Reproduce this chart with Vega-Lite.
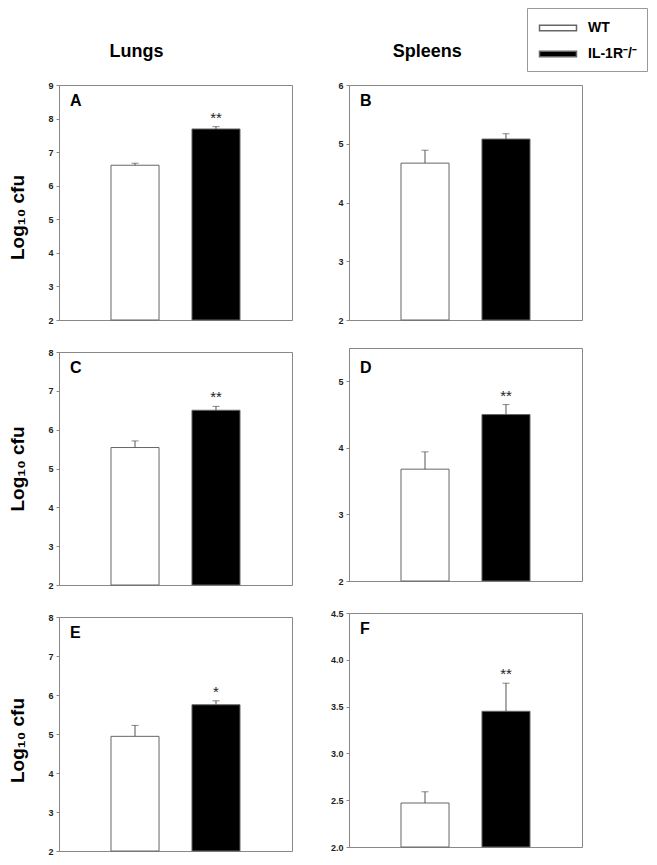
{
  "$schema": "https://vega.github.io/schema/vega-lite/v6.json",
  "padding": {"left": 8, "top": 7, "right": 5, "bottom": 5},
  "background": "white",
  "config": {
    "font": "Liberation Sans",
    "view": {"stroke": "#888", "strokeWidth": 1},
    "axis": {"labelOverlap": false},
    "axisQuantitative": {"labelOverlap": false},
    "axisY": {"domainColor": "#888", "tickColor": "#888", "tickSize": 3, "labelFontSize": 9, "labelFontWeight": "bold", "labelColor": "#222", "labelPadding": 3, "labelOverlap": false, "grid": false, "titleFontSize": 19, "titleFontWeight": "bold", "titleColor": "black", "titlePadding": 20},
    "legend": {"orient": "none", "legendX": 468, "legendY": -77, "title": null, "symbolType": "M-2,-0.3H2V0.3H-2Z", "symbolSize": 342, "symbolOffset": 11, "labelFontSize": 14, "labelFontWeight": "bold", "labelColor": "black", "strokeColor": "#999", "padding": 10, "rowPadding": 9, "labelOffset": 20}
  },
  "datasets": {
    "cfu": [
      {"panel": "A", "group": "WT", "mean": 6.61, "upper": 6.67, "star": ""},
      {"panel": "A", "group": "IL-1R⁻/⁻", "mean": 7.69, "upper": 7.76, "star": "**"},
      {"panel": "B", "group": "WT", "mean": 4.67, "upper": 4.89, "star": ""},
      {"panel": "B", "group": "IL-1R⁻/⁻", "mean": 5.08, "upper": 5.17, "star": ""},
      {"panel": "C", "group": "WT", "mean": 5.54, "upper": 5.71, "star": ""},
      {"panel": "C", "group": "IL-1R⁻/⁻", "mean": 6.5, "upper": 6.6, "star": "**"},
      {"panel": "D", "group": "WT", "mean": 3.68, "upper": 3.94, "star": ""},
      {"panel": "D", "group": "IL-1R⁻/⁻", "mean": 4.5, "upper": 4.65, "star": "**"},
      {"panel": "E", "group": "WT", "mean": 4.94, "upper": 5.22, "star": ""},
      {"panel": "E", "group": "IL-1R⁻/⁻", "mean": 5.75, "upper": 5.85, "star": "*"},
      {"panel": "F", "group": "WT", "mean": 2.47, "upper": 2.59, "star": ""},
      {"panel": "F", "group": "IL-1R⁻/⁻", "mean": 3.45, "upper": 3.75, "star": "**"}
    ]
  },
  "data": {"name": "cfu"},
  "spacing": 36,
  "resolve": {"scale": {"y": "independent"}, "axis": {"y": "independent"}},
  "hconcat": [
    {
      "title": {"text": "Lungs", "fontSize": 18, "fontWeight": "bold", "anchor": "middle", "offset": 20, "dx": -14},
      "spacing": 21,
      "resolve": {"scale": {"y": "independent"}, "axis": {"y": "independent"}},
      "vconcat": [
        {
          "width": 233, "height": 235,
          "title": {"text": "A", "anchor": "start", "frame": "group", "offset": -41, "dx": 11, "fontSize": 16, "fontWeight": "bold", "baseline": "alphabetic"},
          "transform": [{"filter": "datum.panel === 'A'"}],
          "encoding": {"x": {"field": "group", "type": "nominal", "sort": null, "scale": {"domain": ["WT", "IL-1R⁻/⁻"], "paddingInner": 0.407, "paddingOuter": 0.642, "align": 0.5}, "axis": null}},
          "layer": [
            {"mark": {"type": "bar", "stroke": "#666", "strokeWidth": 1}, "encoding": {"y": {"field": "mean", "type": "quantitative", "scale": {"domain": [2, 9], "nice": false, "zero": false}, "axis": {"values": [2, 3, 4, 5, 6, 7, 8, 9], "format": "d", "labelOverlap": false, "labelBound": false, "title": "Log₁₀ cfu", "titleY": 132}}, "y2": {"datum": 2}, "fill": {"field": "group", "type": "nominal", "scale": {"domain": ["WT", "IL-1R⁻/⁻"], "range": ["white", "black"]}}}},
            {"mark": {"type": "rule", "color": "#555"}, "encoding": {"y": {"field": "mean", "type": "quantitative", "axis": {"values": [2, 3, 4, 5, 6, 7, 8, 9], "format": "d", "labelOverlap": false, "labelBound": false, "title": "Log₁₀ cfu", "titleY": 132}}, "y2": {"field": "upper"}}},
            {"mark": {"type": "tick", "color": "#555", "size": 7, "thickness": 1}, "encoding": {"y": {"field": "upper", "type": "quantitative", "axis": {"values": [2, 3, 4, 5, 6, 7, 8, 9], "format": "d", "labelOverlap": false, "labelBound": false, "title": "Log₁₀ cfu", "titleY": 132}}}},
            {"mark": {"type": "text", "baseline": "alphabetic", "dy": -4, "fontSize": 15, "color": "#222"}, "encoding": {"y": {"field": "upper", "type": "quantitative", "axis": {"values": [2, 3, 4, 5, 6, 7, 8, 9], "format": "d", "labelOverlap": false, "labelBound": false, "title": "Log₁₀ cfu", "titleY": 132}}, "text": {"field": "star"}}}
          ]
        },
        {
          "width": 233, "height": 233,
          "title": {"text": "C", "anchor": "start", "frame": "group", "offset": -41, "dx": 11, "fontSize": 16, "fontWeight": "bold", "baseline": "alphabetic"},
          "transform": [{"filter": "datum.panel === 'C'"}],
          "encoding": {"x": {"field": "group", "type": "nominal", "sort": null, "scale": {"domain": ["WT", "IL-1R⁻/⁻"], "paddingInner": 0.407, "paddingOuter": 0.642, "align": 0.5}, "axis": null}},
          "layer": [
            {"mark": {"type": "bar", "stroke": "#666", "strokeWidth": 1}, "encoding": {"y": {"field": "mean", "type": "quantitative", "scale": {"domain": [2, 8], "nice": false, "zero": false}, "axis": {"values": [2, 3, 4, 5, 6, 7, 8], "format": "d", "labelOverlap": false, "labelBound": false, "title": "Log₁₀ cfu"}}, "y2": {"datum": 2}, "fill": {"field": "group", "type": "nominal", "scale": {"domain": ["WT", "IL-1R⁻/⁻"], "range": ["white", "black"]}}}},
            {"mark": {"type": "rule", "color": "#555"}, "encoding": {"y": {"field": "mean", "type": "quantitative", "axis": {"values": [2, 3, 4, 5, 6, 7, 8], "format": "d", "labelOverlap": false, "labelBound": false, "title": "Log₁₀ cfu"}}, "y2": {"field": "upper"}}},
            {"mark": {"type": "tick", "color": "#555", "size": 7, "thickness": 1}, "encoding": {"y": {"field": "upper", "type": "quantitative", "axis": {"values": [2, 3, 4, 5, 6, 7, 8], "format": "d", "labelOverlap": false, "labelBound": false, "title": "Log₁₀ cfu"}}}},
            {"mark": {"type": "text", "baseline": "alphabetic", "dy": -4, "fontSize": 15, "color": "#222"}, "encoding": {"y": {"field": "upper", "type": "quantitative", "axis": {"values": [2, 3, 4, 5, 6, 7, 8], "format": "d", "labelOverlap": false, "labelBound": false, "title": "Log₁₀ cfu"}}, "text": {"field": "star"}}}
          ]
        },
        {
          "width": 233, "height": 234,
          "title": {"text": "E", "anchor": "start", "frame": "group", "offset": -41, "dx": 11, "fontSize": 16, "fontWeight": "bold", "baseline": "alphabetic"},
          "transform": [{"filter": "datum.panel === 'E'"}],
          "encoding": {"x": {"field": "group", "type": "nominal", "sort": null, "scale": {"domain": ["WT", "IL-1R⁻/⁻"], "paddingInner": 0.407, "paddingOuter": 0.642, "align": 0.5}, "axis": null}},
          "layer": [
            {"mark": {"type": "bar", "stroke": "#666", "strokeWidth": 1}, "encoding": {"y": {"field": "mean", "type": "quantitative", "scale": {"domain": [2, 8], "nice": false, "zero": false}, "axis": {"values": [2, 3, 4, 5, 6, 7, 8], "format": "d", "labelOverlap": false, "labelBound": false, "title": "Log₁₀ cfu", "titleY": 123}}, "y2": {"datum": 2}, "fill": {"field": "group", "type": "nominal", "scale": {"domain": ["WT", "IL-1R⁻/⁻"], "range": ["white", "black"]}}}},
            {"mark": {"type": "rule", "color": "#555"}, "encoding": {"y": {"field": "mean", "type": "quantitative", "axis": {"values": [2, 3, 4, 5, 6, 7, 8], "format": "d", "labelOverlap": false, "labelBound": false, "title": "Log₁₀ cfu", "titleY": 123}}, "y2": {"field": "upper"}}},
            {"mark": {"type": "tick", "color": "#555", "size": 7, "thickness": 1}, "encoding": {"y": {"field": "upper", "type": "quantitative", "axis": {"values": [2, 3, 4, 5, 6, 7, 8], "format": "d", "labelOverlap": false, "labelBound": false, "title": "Log₁₀ cfu", "titleY": 123}}}},
            {"mark": {"type": "text", "baseline": "alphabetic", "dy": -4, "fontSize": 15, "color": "#222"}, "encoding": {"y": {"field": "upper", "type": "quantitative", "axis": {"values": [2, 3, 4, 5, 6, 7, 8], "format": "d", "labelOverlap": false, "labelBound": false, "title": "Log₁₀ cfu", "titleY": 123}}, "text": {"field": "star"}}}
          ]
        }
      ]
    },
    {
      "title": {"text": "Spleens", "fontSize": 18, "fontWeight": "bold", "anchor": "middle", "offset": 20, "dx": -29},
      "spacing": 21,
      "resolve": {"scale": {"y": "independent"}, "axis": {"y": "independent"}},
      "vconcat": [
        {
          "width": 233, "height": 235,
          "title": {"text": "B", "anchor": "start", "frame": "group", "offset": -41, "dx": 11, "fontSize": 16, "fontWeight": "bold", "baseline": "alphabetic"},
          "transform": [{"filter": "datum.panel === 'B'"}],
          "encoding": {"x": {"field": "group", "type": "nominal", "sort": null, "scale": {"domain": ["WT", "IL-1R⁻/⁻"], "paddingInner": 0.407, "paddingOuter": 0.642, "align": 0.5}, "axis": null}},
          "layer": [
            {"mark": {"type": "bar", "stroke": "#666", "strokeWidth": 1}, "encoding": {"y": {"field": "mean", "type": "quantitative", "scale": {"domain": [2, 6], "nice": false, "zero": false}, "axis": {"values": [2, 3, 4, 5, 6], "format": "d", "labelOverlap": false, "labelBound": false, "title": null}}, "y2": {"datum": 2}, "fill": {"field": "group", "type": "nominal", "scale": {"domain": ["WT", "IL-1R⁻/⁻"], "range": ["white", "black"]}}}},
            {"mark": {"type": "rule", "color": "#555"}, "encoding": {"y": {"field": "mean", "type": "quantitative", "axis": {"values": [2, 3, 4, 5, 6], "format": "d", "labelOverlap": false, "labelBound": false, "title": null}}, "y2": {"field": "upper"}}},
            {"mark": {"type": "tick", "color": "#555", "size": 7, "thickness": 1}, "encoding": {"y": {"field": "upper", "type": "quantitative", "axis": {"values": [2, 3, 4, 5, 6], "format": "d", "labelOverlap": false, "labelBound": false, "title": null}}}},
            {"mark": {"type": "text", "baseline": "alphabetic", "dy": -4, "fontSize": 15, "color": "#222"}, "encoding": {"y": {"field": "upper", "type": "quantitative", "axis": {"values": [2, 3, 4, 5, 6], "format": "d", "labelOverlap": false, "labelBound": false, "title": null}}, "text": {"field": "star"}}}
          ]
        },
        {
          "width": 233, "height": 233,
          "title": {"text": "D", "anchor": "start", "frame": "group", "offset": -41, "dx": 11, "fontSize": 16, "fontWeight": "bold", "baseline": "alphabetic"},
          "transform": [{"filter": "datum.panel === 'D'"}],
          "encoding": {"x": {"field": "group", "type": "nominal", "sort": null, "scale": {"domain": ["WT", "IL-1R⁻/⁻"], "paddingInner": 0.407, "paddingOuter": 0.642, "align": 0.5}, "axis": null}},
          "layer": [
            {"mark": {"type": "bar", "stroke": "#666", "strokeWidth": 1}, "encoding": {"y": {"field": "mean", "type": "quantitative", "scale": {"domain": [2, 5.5], "nice": false, "zero": false}, "axis": {"values": [2, 3, 4, 5], "format": "d", "labelOverlap": false, "labelBound": false, "title": null}}, "y2": {"datum": 2}, "fill": {"field": "group", "type": "nominal", "scale": {"domain": ["WT", "IL-1R⁻/⁻"], "range": ["white", "black"]}}}},
            {"mark": {"type": "rule", "color": "#555"}, "encoding": {"y": {"field": "mean", "type": "quantitative", "axis": {"values": [2, 3, 4, 5], "format": "d", "labelOverlap": false, "labelBound": false, "title": null}}, "y2": {"field": "upper"}}},
            {"mark": {"type": "tick", "color": "#555", "size": 7, "thickness": 1}, "encoding": {"y": {"field": "upper", "type": "quantitative", "axis": {"values": [2, 3, 4, 5], "format": "d", "labelOverlap": false, "labelBound": false, "title": null}}}},
            {"mark": {"type": "text", "baseline": "alphabetic", "dy": -4, "fontSize": 15, "color": "#222"}, "encoding": {"y": {"field": "upper", "type": "quantitative", "axis": {"values": [2, 3, 4, 5], "format": "d", "labelOverlap": false, "labelBound": false, "title": null}}, "text": {"field": "star"}}}
          ]
        },
        {
          "width": 233, "height": 234,
          "title": {"text": "F", "anchor": "start", "frame": "group", "offset": -41, "dx": 11, "fontSize": 16, "fontWeight": "bold", "baseline": "alphabetic"},
          "transform": [{"filter": "datum.panel === 'F'"}],
          "encoding": {"x": {"field": "group", "type": "nominal", "sort": null, "scale": {"domain": ["WT", "IL-1R⁻/⁻"], "paddingInner": 0.407, "paddingOuter": 0.642, "align": 0.5}, "axis": null}},
          "layer": [
            {"mark": {"type": "bar", "stroke": "#666", "strokeWidth": 1}, "encoding": {"y": {"field": "mean", "type": "quantitative", "scale": {"domain": [2, 4.5], "nice": false, "zero": false}, "axis": {"values": [2, 2.5, 3, 3.5, 4, 4.5], "format": ".1f", "labelOverlap": false, "labelBound": false, "title": null}}, "y2": {"datum": 2}, "fill": {"field": "group", "type": "nominal", "scale": {"domain": ["WT", "IL-1R⁻/⁻"], "range": ["white", "black"]}}}},
            {"mark": {"type": "rule", "color": "#555"}, "encoding": {"y": {"field": "mean", "type": "quantitative", "axis": {"values": [2, 2.5, 3, 3.5, 4, 4.5], "format": ".1f", "labelOverlap": false, "labelBound": false, "title": null}}, "y2": {"field": "upper"}}},
            {"mark": {"type": "tick", "color": "#555", "size": 7, "thickness": 1}, "encoding": {"y": {"field": "upper", "type": "quantitative", "axis": {"values": [2, 2.5, 3, 3.5, 4, 4.5], "format": ".1f", "labelOverlap": false, "labelBound": false, "title": null}}}},
            {"mark": {"type": "text", "baseline": "alphabetic", "dy": -4, "fontSize": 15, "color": "#222"}, "encoding": {"y": {"field": "upper", "type": "quantitative", "axis": {"values": [2, 2.5, 3, 3.5, 4, 4.5], "format": ".1f", "labelOverlap": false, "labelBound": false, "title": null}}, "text": {"field": "star"}}}
          ]
        }
      ]
    }
  ]
}
